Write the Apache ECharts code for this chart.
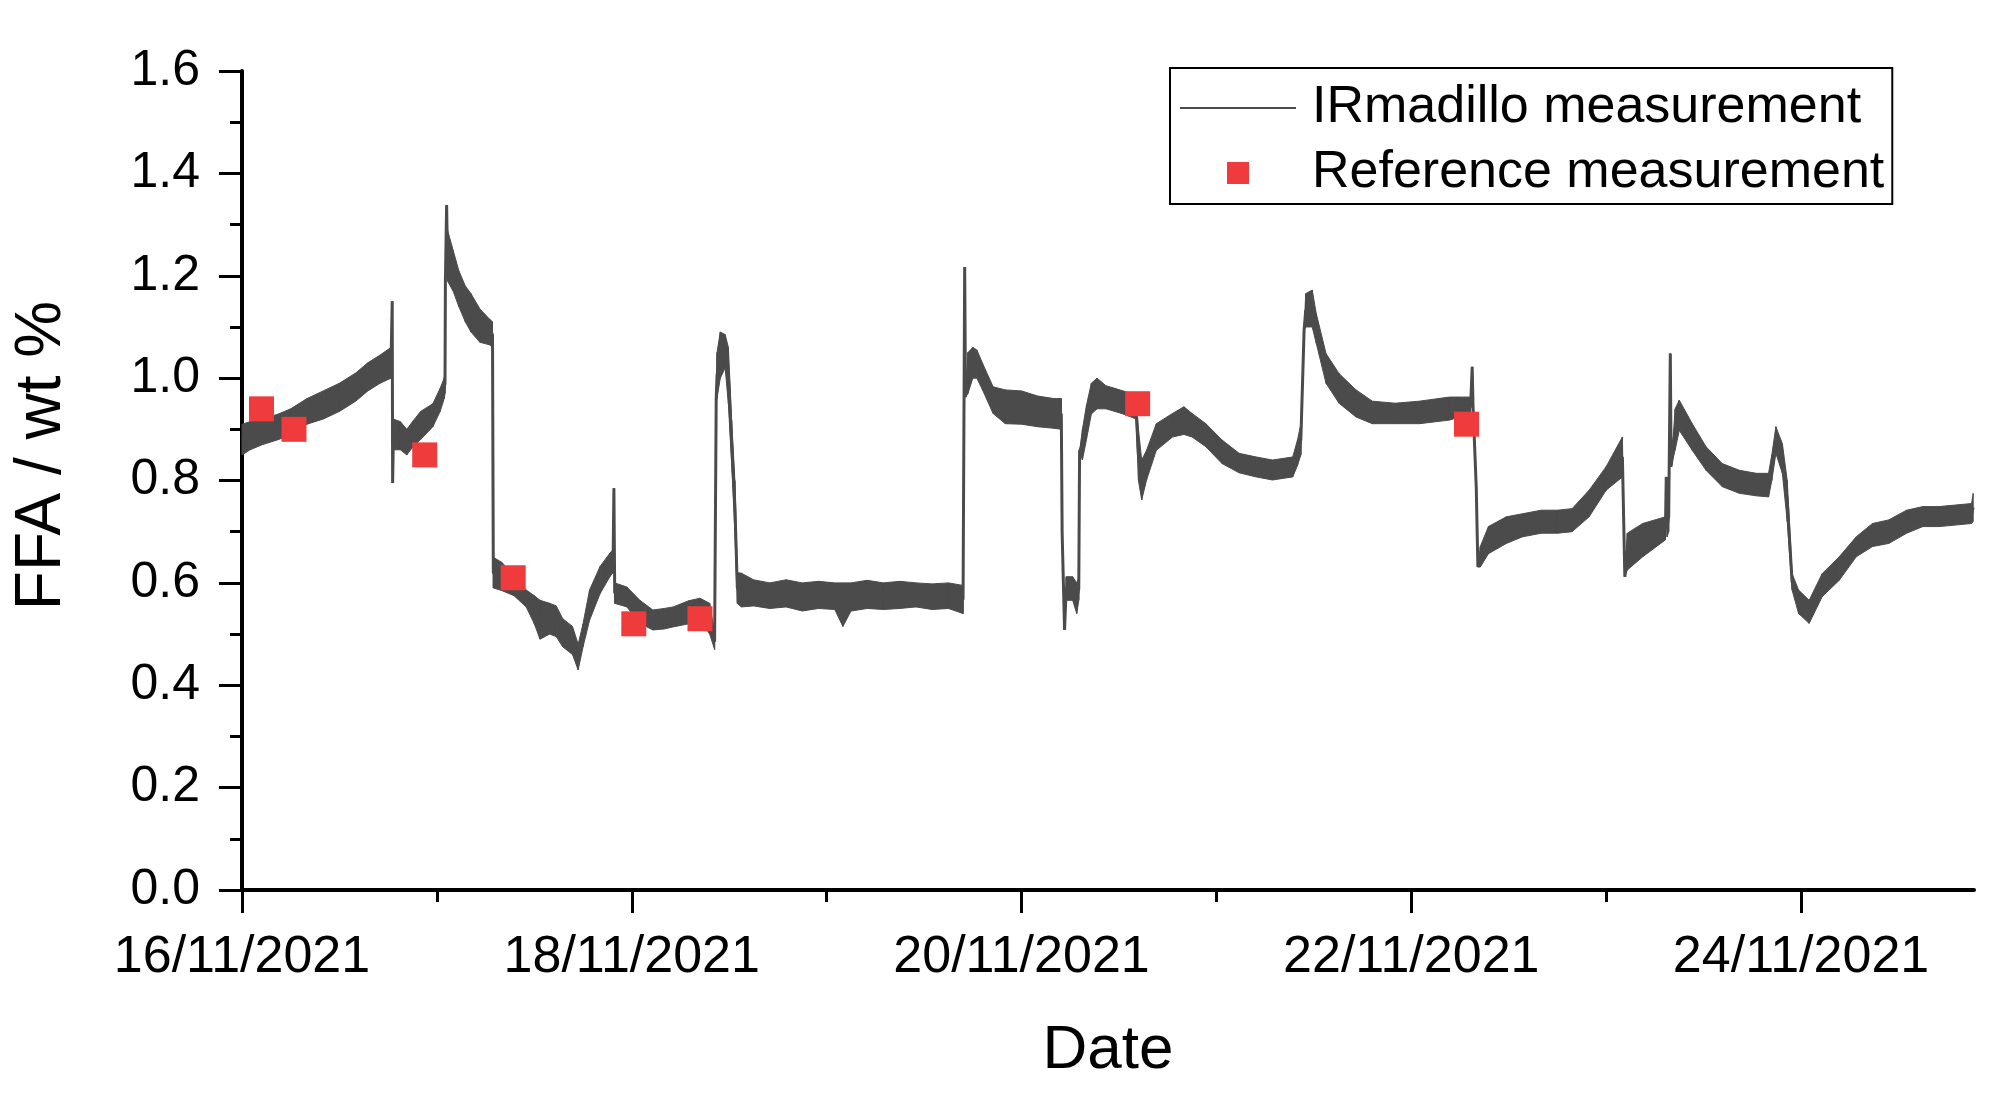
<!DOCTYPE html>
<html><head><meta charset="utf-8">
<script src="https://cdn.jsdelivr.net/npm/echarts@6/dist/echarts.min.js"></script>
<style>html,body{margin:0;padding:0;background:#fff}#c{width:2000px;height:1111px}</style>
</head><body><div id="c"></div>
<script>
// hours are counted from 16/11/2021 00:00
const xTickHours = [0, 48, 96, 144, 192];
const xMinorHours = [24, 72, 120, 168];
const xMaxHour = 213.3;
const yMin = 0, yMax = 1.6, yStep = 0.2;

// Reference measurements
const refHours = [2.4, 6.4, 22.5, 33.4, 48.25, 56.4, 110.3, 150.8];
const refValues = [0.94, 0.90, 0.85, 0.61, 0.52, 0.53, 0.95, 0.91];

// IRmadillo trace, read as [hour, lower edge, upper edge] of the noisy band
const trace16 = [[0.0,0.85,0.91],[1.0,0.86,0.915],[2.5,0.87,0.92],[4.5,0.88,0.93],[6.0,0.89,0.94],[8.0,0.91,0.96],[10.0,0.92,0.975],[12.0,0.935,0.99],[14.0,0.955,1.01],[15.5,0.975,1.03],[17.0,0.99,1.045],[18.35,1.0,1.06],[18.5,1.15,1.15],[18.55,0.795,0.795],[18.65,0.86,0.92],[19.5,0.86,0.915],[20.3,0.85,0.90],[21.0,0.865,0.915],[22.0,0.88,0.935],[23.5,0.905,0.95]];
const trace17 = [[24.4,0.935,0.98],[24.9,0.96,1.0],[25.0,0.97,1.01],[25.05,1.19,1.19],[25.2,1.338,1.338],[25.3,1.19,1.29],[26.0,1.17,1.25],[26.7,1.14,1.21],[27.5,1.11,1.18],[28.2,1.09,1.165],[29.3,1.07,1.135],[30.5,1.065,1.115],[30.85,1.06,1.11],[30.95,0.59,0.65],[32.0,0.585,0.64],[33.5,0.575,0.615],[35.0,0.553,0.586],[36.0,0.52,0.575],[36.7,0.49,0.566],[37.9,0.50,0.56],[38.7,0.495,0.555],[39.5,0.475,0.53],[40.7,0.46,0.515],[41.4,0.43,0.48],[42.0,0.475,0.52],[42.8,0.527,0.586],[44.1,0.579,0.632],[45.3,0.612,0.658],[45.7,0.62,0.665],[45.8,0.785,0.785],[45.9,0.56,0.60],[47.4,0.553,0.592]];
const trace18 = [[49.0,0.521,0.566],[50.6,0.508,0.547],[52.0,0.51,0.55],[53.1,0.514,0.553],[55.0,0.52,0.565],[56.4,0.527,0.570],[57.6,0.50,0.56],[58.2,0.47,0.50],[58.4,0.96,0.96],[58.5,0.96,1.05],[58.9,1.0,1.09],[59.5,1.02,1.085],[59.9,0.95,1.06],[60.3,0.833,0.918],[60.7,0.70,0.80],[61.0,0.56,0.62],[61.5,0.553,0.619],[63,0.555,0.606],[65,0.55,0.60],[67,0.553,0.606],[69,0.545,0.60],[71,0.55,0.603]];
const trace19 = [[73,0.548,0.60],[74,0.515,0.60],[75,0.545,0.60],[77,0.55,0.605],[79,0.548,0.60],[81,0.55,0.603],[83,0.553,0.60],[85,0.548,0.598],[87,0.55,0.60],[88.8,0.54,0.595],[89.0,1.217,1.217],[89.1,0.963,0.963],[89.4,0.97,1.05],[90.0,1.0,1.06],[90.5,1.0,1.055],[91.2,0.977,1.029],[92.5,0.931,0.983],[94,0.911,0.977]];
const trace20 = [[96,0.91,0.975],[98,0.905,0.965],[100,0.902,0.96],[100.9,0.90,0.96],[101.0,0.70,0.70],[101.3,0.508,0.508],[101.5,0.566,0.612],[102.3,0.566,0.612],[102.8,0.54,0.60],[103.05,0.566,0.61],[103.15,0.857,0.857],[103.5,0.84,0.90],[104.0,0.88,0.947],[104.6,0.93,0.99],[105.3,0.94,1.0],[106.4,0.94,0.985],[107.5,0.935,0.98],[108.5,0.93,0.975],[109.5,0.924,0.97],[110.1,0.92,0.965],[110.4,0.80,0.90],[110.8,0.762,0.84],[111.4,0.801,0.859],[112.6,0.859,0.911],[114.6,0.885,0.931],[116.0,0.89,0.944],[117.0,0.885,0.931],[118.7,0.866,0.911]];
const trace21 = [[120.7,0.833,0.879],[122.8,0.815,0.853],[124.9,0.807,0.846],[126.9,0.801,0.840],[129.4,0.807,0.846],[130.0,0.83,0.88],[130.4,0.85,0.91],[130.8,1.094,1.094],[131.0,1.10,1.165],[131.8,1.10,1.172],[132.3,1.068,1.126],[133.5,0.99,1.048],[135.1,0.951,1.009],[137.2,0.924,0.977],[139.2,0.911,0.955],[142,0.911,0.951]];
const trace22 = [[145,0.911,0.955],[148.7,0.918,0.963],[150.0,0.924,0.963],[151.3,0.924,0.963],[151.5,1.022,1.022],[151.6,0.93,0.965],[152.0,0.787,0.787],[152.2,0.631,0.631],[152.5,0.631,0.671],[153.5,0.657,0.710],[155.7,0.677,0.729],[157.7,0.69,0.735],[160,0.697,0.742],[162,0.697,0.742],[163.8,0.70,0.745],[165.9,0.729,0.781]];
const trace23 = [[168.0,0.781,0.827],[170.0,0.807,0.885],[170.3,0.612,0.612],[170.6,0.625,0.697],[172.5,0.651,0.716],[175.3,0.684,0.729],[175.4,0.807,0.807],[175.5,0.69,0.73],[175.7,0.70,0.76],[175.9,1.048,1.048],[176.0,0.827,0.827],[176.5,0.86,0.94],[177.0,0.898,0.957],[178.6,0.859,0.911],[180.3,0.820,0.866],[182.3,0.788,0.833],[184.4,0.775,0.820],[186.5,0.77,0.814],[188.0,0.768,0.814],[188.4,0.80,0.85],[188.9,0.853,0.905],[189.7,0.814,0.872],[190.3,0.72,0.80],[190.9,0.586,0.618],[191.7,0.540,0.586]];
const trace24 = [[193.0,0.521,0.566],[194.6,0.573,0.618],[196.7,0.605,0.651],[198.8,0.651,0.690],[200.8,0.671,0.716],[202.8,0.677,0.723],[205.0,0.697,0.742],[207.0,0.710,0.749],[209.0,0.710,0.749],[211.0,0.713,0.752],[213.0,0.716,0.755],[213.2,0.72,0.775]];

const FONT = '"Liberation Sans", Arial, sans-serif';
const LINE = '#4b4b4b';
const RED = '#EF3B3B';

const rows = [].concat(trace16, trace17, trace18, trace19, trace20, trace21, trace22, trace23, trace24);
const lineData = rows.map(r => [r[0], (r[1] + r[2]) / 2]);
const bandData = rows.slice(1).map((r, i) => [rows[i][0], rows[i][1], rows[i][2], r[0], r[1], r[2]]);
const refData = refHours.map((h, i) => [h, refValues[i]]);

function dateLabel(h) {
  const d = 16 + Math.round(h / 24);
  return d + '/11/2021';
}

const chart = echarts.init(document.getElementById('c'), null, {renderer: 'canvas'});
chart.setOption({
  animation: false,
  backgroundColor: '#fff',
  textStyle: {fontFamily: FONT},
  grid: {left: 242, right: 26, top: 71, bottom: 221, containLabel: false},
  legend: {
    orient: 'vertical', left: 1170, top: 68,
    padding: [14, 8, 5, 9], itemGap: 13,
    itemWidth: 116, itemHeight: 22,
    symbolKeepAspect: true,
    borderColor: '#000', borderWidth: 2,
    selectedMode: false,
    textStyle: {fontSize: 52, color: '#000', fontFamily: FONT, padding: [0, 0, 0, 11]},
    data: [
      {name: 'IRmadillo measurement', itemStyle: {opacity: 0, color: 'rgba(0,0,0,0)', borderWidth: 0}},
      {name: 'Reference measurement', icon: 'path://M0,0h10v10h-10z'}
    ]
  },
  xAxis: [{
    type: 'value', min: 0, max: xMaxHour,
    name: 'Date', nameLocation: 'middle', nameGap: 130,
    nameTextStyle: {fontSize: 62, color: '#000', fontFamily: FONT},
    axisLine: {show: true, onZero: false, lineStyle: {color: '#000', width: 4}},
    axisTick: {show: true, customValues: xTickHours, length: 23, lineStyle: {color: '#000', width: 3}},
    axisLabel: {show: true, customValues: xTickHours, formatter: v => dateLabel(v), fontSize: 52, color: '#000', margin: 42, fontFamily: FONT},
    splitLine: {show: false}
  }, {
    type: 'value', min: 0, max: xMaxHour, position: 'bottom',
    axisLine: {show: false},
    axisTick: {show: true, customValues: xMinorHours, length: 12, lineStyle: {color: '#000', width: 3}},
    axisLabel: {show: false},
    splitLine: {show: false}
  }],
  yAxis: {
    type: 'value', min: yMin, max: yMax, interval: yStep,
    name: 'FFA / wt %', nameLocation: 'middle', nameGap: 168,
    nameTextStyle: {fontSize: 64, color: '#000', fontFamily: FONT, padding: [0, 0, 0, 50]},
    axisLine: {show: true, lineStyle: {color: '#000', width: 4}},
    axisTick: {show: true, length: 23, lineStyle: {color: '#000', width: 3}},
    minorTick: {show: true, splitNumber: 2, length: 12, lineStyle: {color: '#000', width: 3}},
    axisLabel: {fontSize: 50, color: '#000', margin: 42, formatter: v => v.toFixed(1), fontFamily: FONT},
    splitLine: {show: false}, minorSplitLine: {show: false}
  },
  series: [{
    name: 'noise band', type: 'custom', data: bandData, silent: true, z: 2,
    xAxisIndex: 0, yAxisIndex: 0,
    encode: {x: [0, 3], y: [1, 2, 4, 5]},
    renderItem: function (params, api) {
      const a = api.coord([api.value(0), api.value(1)]);
      const b = api.coord([api.value(0), api.value(2)]);
      const c = api.coord([api.value(3), api.value(5)]);
      const d = api.coord([api.value(3), api.value(4)]);
      return {type: 'polygon', shape: {points: [a, b, c, d]}, style: {fill: LINE, stroke: LINE, lineWidth: 1}};
    }
  }, {
    name: 'IRmadillo measurement', type: 'line', data: lineData,
    symbol: 'none', color: LINE, lineStyle: {color: LINE, width: 3}, z: 3
  }, {
    name: 'Reference measurement', type: 'scatter', data: refData,
    symbol: 'rect', symbolSize: 25, itemStyle: {color: RED, opacity: 1}, z: 4
  }]
});
</script></body></html>
